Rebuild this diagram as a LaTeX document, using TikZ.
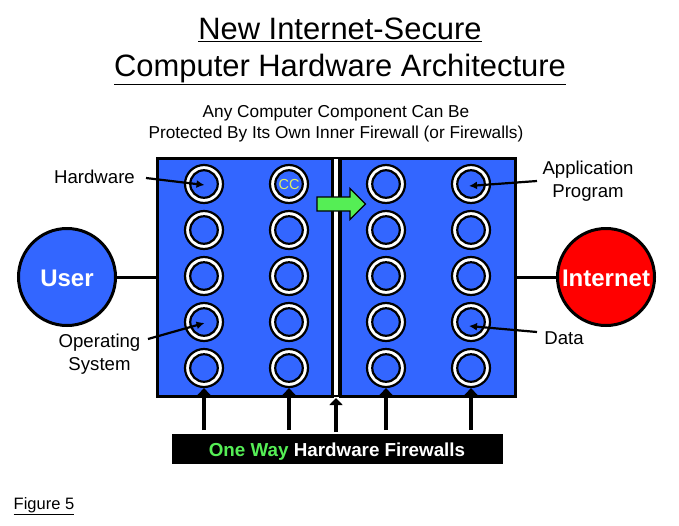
\documentclass[tikz,border=0pt]{standalone}
\usepackage{fontspec}
\setmainfont{Liberation Sans}
\usetikzlibrary{arrows.meta}
\definecolor{panelblue}{HTML}{3366FF}
\definecolor{gogreen}{HTML}{55EE55}
\definecolor{cctext}{HTML}{DDEE66}
\tikzset{
  x=1pt,y=-1pt,
  unit/.style={circle,draw=black,line width=2.2pt,fill=white,minimum size=38pt,inner sep=0pt},
  unitcore/.style={circle,draw=black,line width=2.2pt,fill=panelblue,minimum size=27.5pt,inner sep=0pt},
  panel/.style={draw=black,line width=3pt,fill=panelblue},
  party/.style={circle,draw=black,line width=3pt,minimum size=97pt,inner sep=0pt,text=white,font=\fontsize{24}{24}\selectfont\bfseries},
  lbl/.style={font=\fontsize{18.6}{23}\selectfont,align=center,inner sep=0pt},
  pointer/.style={line width=2.2pt,-{Latex[length=8pt,width=8pt]}},
  fwarrow/.style={line width=3.6pt,-{Triangle[length=7pt,width=13pt]}},
  link/.style={line width=3pt},
}
\begin{document}
\begin{tikzpicture}
\useasboundingbox (0,0) rectangle (679,525);
% title
\node[font=\fontsize{30.9}{37}\selectfont,align=center,inner sep=0pt] (title) at (340,51) {\underline{New Internet-Secure}\\\underline{Computer Hardware Architecture}};
\node[font=\fontsize{17.25}{21}\selectfont,align=center,inner sep=0pt] (subtitle) at (336,123.5) {Any Computer Component Can Be\\Protected By Its Own Inner Firewall (or Firewalls)};
% links
\node[party,fill=panelblue] (user) at (67,277) {\raisebox{-9.5pt}[0pt][0pt]{User}};
\node[party,fill=red] (internet) at (606,277) {\raisebox{-9.5pt}[0pt][0pt]{Internet}};
% panels
\node[panel,minimum width=175pt,minimum height=238pt,inner sep=0pt] (left) at (244.5,277) {};
\node[panel,minimum width=175pt,minimum height=238pt,inner sep=0pt] (right) at (427.5,277) {};
\node[draw=black,line width=2.5pt,fill=white,minimum width=6pt,minimum height=238pt,inner sep=0pt] (divider) at (336,277) {};
\draw[link] (user.east) -- (left.west);
\draw[link] (internet.west) -- (right.east);
% units
\foreach \cx/\col in {204/a,289/b,386/c,471/d}{
  \foreach \cy/\row in {184/1,230/2,276/3,322/4,368/5}{
    \node[unit] (o\col\row) at (\cx,\cy) {};
    \node[unitcore] (i\col\row) at (\cx,\cy) {};
  }
}
\node[font=\fontsize{14.5}{14.5}\selectfont,text=cctext,inner sep=0pt] (cc) at (289,185) {CC};
% labels
\node[lbl] (hardware) at (94.5,177) {Hardware};
\node[lbl] (os) at (99.5,354.5) {Operating\\System};
\node[lbl] (app) at (588,181) {Application\\Program};
\node[lbl] (data) at (564,338) {Data};
\node[font=\fontsize{16.5}{16.5}\selectfont,inner sep=0pt] (fig) at (44,506) {\underline{Figure 5}};
% pointers
\coordinate (hw0) at (146,178);
\coordinate (os0) at (148,339);
\coordinate (app0) at (537,181);
\coordinate (data0) at (537,332);
\coordinate (hw1) at (204.5,185);
\coordinate (os1) at (204.5,323);
\coordinate (app1) at (469,186);
\coordinate (data1) at (469,326);
\draw[pointer] (hw0) -- (hw1);
\draw[pointer] (os0) -- (os1);
\draw[pointer] (app0) -- (app1);
\draw[pointer] (data0) -- (data1);
% green arrow
\draw[draw=black,line width=1.3pt,fill=gogreen]
  (317,197) -- (350,197) -- (350,188.5) -- (365.5,204) -- (350,219.5) -- (350,211) -- (317,211) -- cycle;
% firewall bar
\node[fill=black,minimum width=331pt,minimum height=30pt,inner sep=0pt,font=\fontsize{18.8}{18.8}\selectfont\bfseries,text=white] (bar) at (337,449) {\raisebox{-7pt}[0pt][0pt]{\textcolor{gogreen}{One Way} Hardware Firewalls}};
\foreach \col/\cx in {a/204,b/289,c/386,d/471}{
  \coordinate (s\col) at (\cx,430);
  \draw[fwarrow] (s\col) -- (o\col5.south);
}
\coordinate (sm) at (336,432);
\coordinate (em) at (336,398);
\draw[fwarrow] (sm) -- (em);
\end{tikzpicture}
\end{document}
